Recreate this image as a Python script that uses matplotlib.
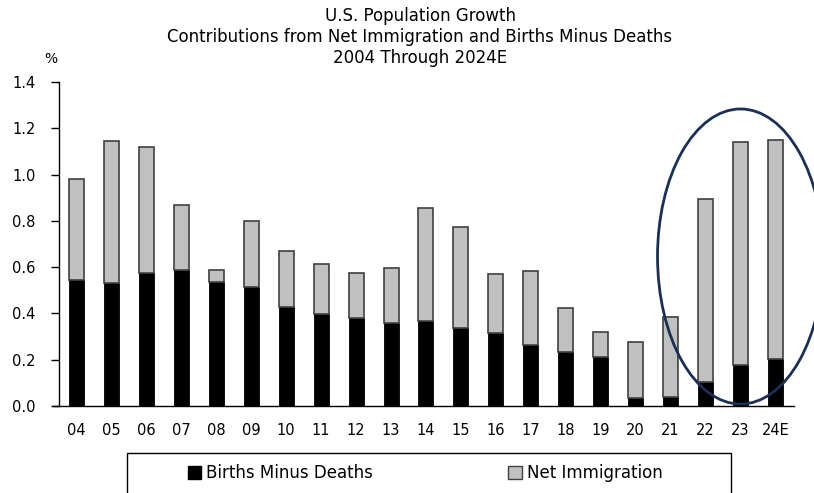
import matplotlib
matplotlib.use("Agg")
import matplotlib.pyplot as plt
from matplotlib.patches import Ellipse, Rectangle, Patch
import numpy as np

# US population growth, % contribution by component
years = ['04', '05', '06', '07', '08', '09', '10', '11', '12', '13', '14',
         '15', '16', '17', '18', '19', '20', '21', '22', '23', '24E']
births_minus_deaths = [0.543, 0.530, 0.573, 0.586, 0.536, 0.513, 0.429, 0.396, 0.382, 0.357, 0.367,
                       0.339, 0.314, 0.264, 0.235, 0.210, 0.036, 0.040, 0.104, 0.176, 0.202]
net_immigration = [0.437, 0.615, 0.547, 0.281, 0.053, 0.285, 0.242, 0.219, 0.193, 0.241, 0.490,
                   0.436, 0.257, 0.319, 0.189, 0.111, 0.241, 0.345, 0.789, 0.965, 0.949]

plt.rcParams['font.family'] = ['DejaVu Sans']

fig = plt.figure(figsize=(8.14, 4.93), dpi=100)
ax = fig.add_axes([59/814, 1 - 406/493, 735/814, 324/493])

x = np.arange(len(years))
w = 0.43
ax.bar(x, births_minus_deaths, width=w, color='black', edgecolor='black', linewidth=0.6)
ax.bar(x, net_immigration, width=w, bottom=births_minus_deaths, color='#c0c0c0',
       edgecolor='#404040', linewidth=1.2)

ax.set_xlim(-0.5, 20.53)
ax.set_ylim(0, 1.4)
ax.set_yticks(np.arange(0, 1.41, 0.2))
ax.set_yticklabels([f'{v:.1f}' for v in np.arange(0, 1.41, 0.2)])
ax.set_xticks(x)
ax.set_xticklabels(years)
ax.tick_params(axis='x', length=0, pad=12, labelsize=10.5)
ax.tick_params(axis='y', direction='out', length=6, width=1, pad=11, labelsize=10.5)
for side in ['top', 'right']:
    ax.spines[side].set_visible(False)
ax.spines['left'].set_linewidth(1)
ax.spines['bottom'].set_linewidth(1)
ax.spines['bottom'].set_bounds(-0.68, 20.53)

# highlight the recent immigration surge
ell = Ellipse((19, 0.646), 4.75, 1.275, fill=False, edgecolor='#1b2f55',
              linewidth=2, clip_on=False)
ax.add_patch(ell)

fig.text(420/814, 1 - 16/493, 'U.S. Population Growth', ha='center', va='center', fontsize=12)
fig.text(420/814, 1 - 37/493, 'Contributions from Net Immigration and Births Minus Deaths',
         ha='center', va='center', fontsize=12)
fig.text(420/814, 1 - 58/493, '2004 Through 2024E', ha='center', va='center', fontsize=12)
fig.text(51/814, 1 - 59/493, '%', ha='center', va='center', fontsize=10)

# legend box running off the bottom edge
fig.patches.append(Rectangle((127/814, -0.05), 604/814, (493 - 453)/493 + 0.05,
                             transform=fig.transFigure, fill=False, edgecolor='black',
                             linewidth=1))
handles = [Patch(facecolor='black', edgecolor='black', label='Births Minus Deaths'),
           Patch(facecolor='#c0c0c0', edgecolor='#404040', label='Net Immigration')]
fig.legend(handles=handles, loc='center left', bbox_to_anchor=(188/814, 1 - 473/493),
           ncol=2, frameon=False, fontsize=12, handlelength=0.8, handleheight=0.8,
           handletextpad=0.3, columnspacing=8.1, borderaxespad=0, borderpad=0)

fig.savefig('out.png', dpi=100)
